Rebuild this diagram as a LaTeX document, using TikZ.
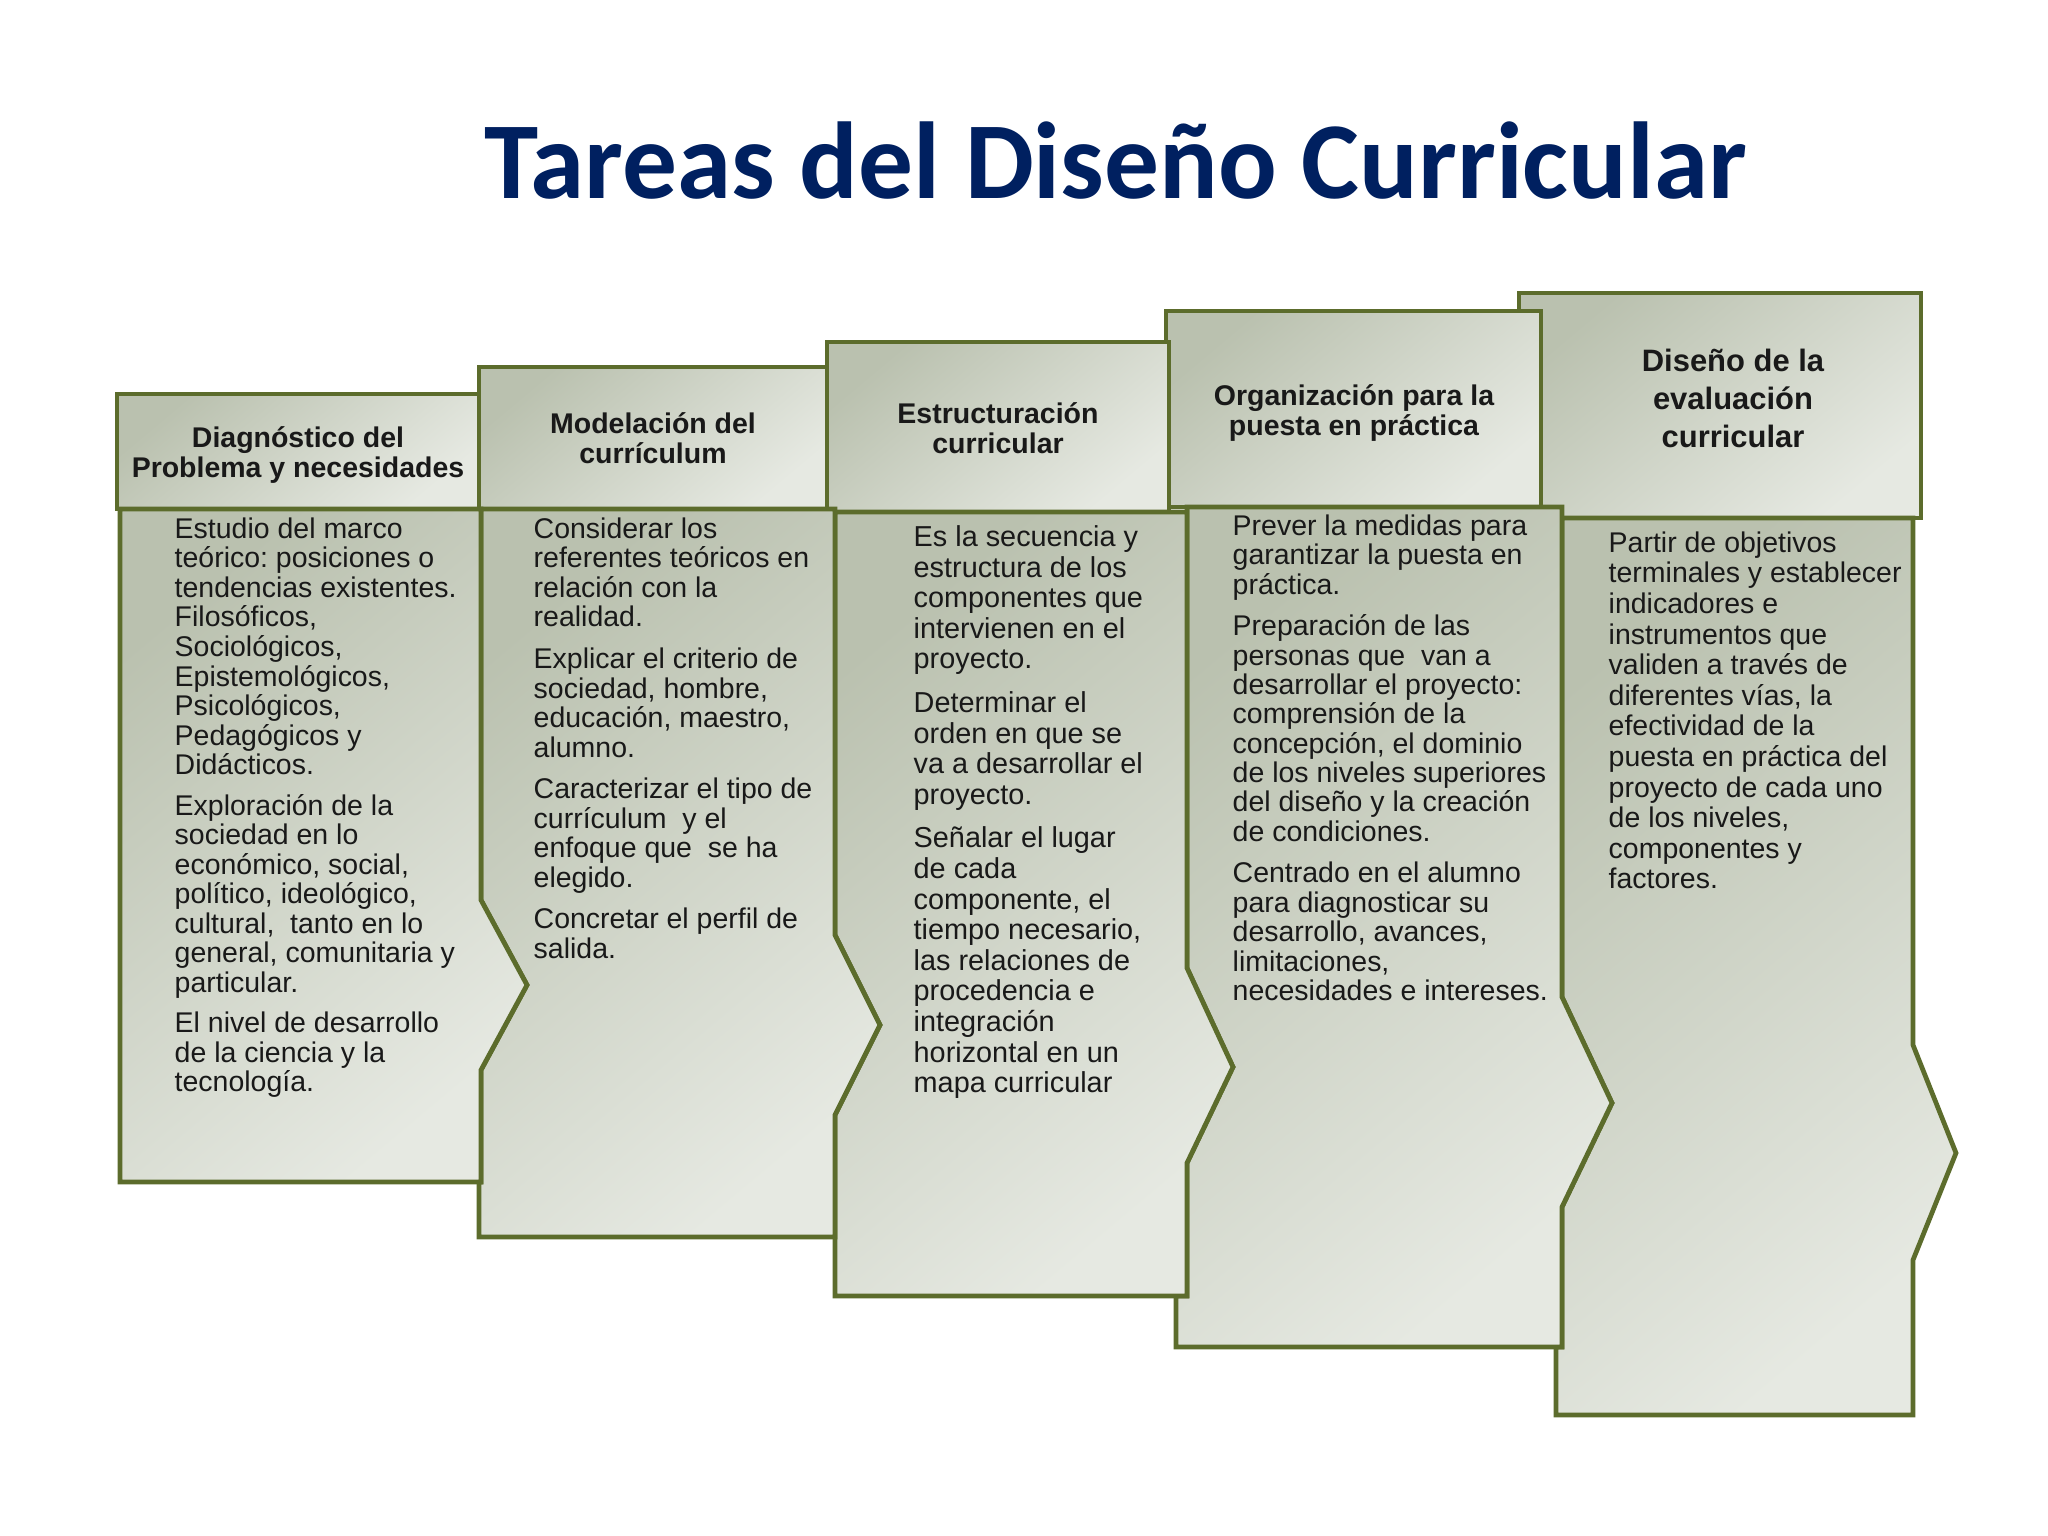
\documentclass[tikz,border=0pt]{standalone}
\usepackage{fontspec}
\setmainfont{Liberation Sans}
\newfontfamily\titlefont{Carlito}
\definecolor{olivebd}{RGB}{92,108,44}
\definecolor{shadeA}{RGB}{186,193,175}
\definecolor{shadeB}{RGB}{230,233,226}
\definecolor{navytitle}{RGB}{0,32,96}
\frenchspacing
\tikzset{
  panel/.style={draw=olivebd, line width=1.35pt, line join=miter, top color=shadeA, bottom color=shadeB, shading angle=40},
  hdr/.style={font=\bfseries\fontsize{8.1}{8.6}\selectfont, align=center, inner sep=0pt, text=black!90},
  bodytext/.style={align=left, anchor=north west, inner sep=0pt, text=black!90},
}
\begin{document}
\begin{tikzpicture}[x=0.01cm,y=-0.01cm]
\useasboundingbox[fill=white] (0,0) rectangle (2048,1536);

\node[font=\titlefont\bfseries\fontsize{31.1}{34}\selectfont, text=navytitle, anchor=base, inner sep=0pt] (title) at (1116,198) {Tareas del Diseño Curricular};

% column 5
\path[panel] (1519,293) rectangle (1921,518);
\path[panel] (1562,518) -- (1913,518) -- (1913,1045) -- (1956,1153) -- (1913,1260) -- (1913,1415) -- (1556,1415) -- (1556,1347) -- (1562,1347) -- (1562,1207) -- (1612,1103) -- (1562,997) -- cycle;
% column 4
\path[panel] (1166,311) rectangle (1541,507);
\path[panel] (1187,507) -- (1562,507) -- (1562,997) -- (1612,1103) -- (1562,1207) -- (1562,1347) -- (1176,1347) -- (1176,1296) -- (1187,1296) -- (1187,1163) -- (1233,1067) -- (1187,968) -- cycle;
% column 3
\path[panel] (827,342) rectangle (1169,512);
\path[panel] (835,512) -- (1187,512) -- (1187,968) -- (1233,1067) -- (1187,1163) -- (1187,1296) -- (835,1296) -- (835,1115) -- (880,1025) -- (835,935) -- cycle;
% column 2
\path[panel] (479,367) rectangle (827,509);
\path[panel] (481,509) -- (835,509) -- (835,935) -- (880,1025) -- (835,1115) -- (835,1237) -- (479,1237) -- (479,1182) -- (481,1182) -- (481,1070) -- (527,985) -- (481,900) -- cycle;
% column 1
\path[panel] (117,394) rectangle (479,509);
\path[panel] (120,509) -- (481,509) -- (481,900) -- (527,985) -- (481,1070) -- (481,1182) -- (120,1182) -- cycle;

% headers
\node[hdr] (h1) at (298,455) {Diagnóstico del\\Problema y necesidades};
\node[hdr] (h2) at (653,438) {Modelación del\\currículum};
\node[hdr] (h3) at (998,428) {Estructuración\\curricular};
\node[hdr] (h4) at (1354,413) {Organización para la\\puesta en práctica};
\node[hdr, font=\bfseries\fontsize{8.8}{10.8}\selectfont] (h5) at (1733,398) {Diseño de la\\evaluación\\curricular};

% bodies
\node[bodytext, font=\fontsize{8.1}{8.4}\selectfont] (t1) at (174,517) {Estudio del marco\\teórico: posiciones o\\tendencias existentes.\\Filosóficos,\\Sociológicos,\\Epistemológicos,\\Psicológicos,\\Pedagógicos y\\Didácticos.\\[3.1pt]Exploración de la\\sociedad en lo\\económico, social,\\político, ideológico,\\cultural,\ \ tanto en lo\\general, comunitaria y\\particular.\\[3.1pt]El nivel de desarrollo\\de la ciencia y la\\tecnología.};

\node[bodytext, font=\fontsize{8.1}{8.4}\selectfont] (t2) at (533,517) {Considerar los\\referentes teóricos en\\relación con la\\realidad.\\[3.4pt]Explicar el criterio de\\sociedad, hombre,\\educación, maestro,\\alumno.\\[3.4pt]Caracterizar el tipo de\\currículum\ \ y el\\enfoque que\ \ se ha\\elegido.\\[3.4pt]Concretar el perfil de\\salida.};

\node[bodytext, font=\fontsize{8.2}{8.7}\selectfont] (t3) at (913,525) {Es la secuencia y\\estructura de los\\componentes que\\intervienen en el\\proyecto.\\[3.7pt]Determinar el\\orden en que se\\va a desarrollar el\\proyecto.\\[3.7pt]Señalar el lugar\\de cada\\componente, el\\tiempo necesario,\\las relaciones de\\procedencia e\\integración\\horizontal en un\\mapa curricular};

\node[bodytext, font=\fontsize{8.1}{8.35}\selectfont] (t4) at (1232,514) {Prever la medidas para\\garantizar la puesta en\\práctica.\\[3.5pt]Preparación de las\\personas que\ \ van a\\desarrollar el proyecto:\\comprensión de la\\concepción, el dominio\\de los niveles superiores\\del diseño y la creación\\de condiciones.\\[3.5pt]Centrado en el alumno\\para diagnosticar su\\desarrollo, avances,\\limitaciones,\\necesidades e intereses.};

\node[bodytext, font=\fontsize{8.1}{8.7}\selectfont] (t5) at (1608,531) {Partir de objetivos\\terminales y establecer\\indicadores e\\instrumentos que\\validen a través de\\diferentes vías, la\\efectividad de la\\puesta en práctica del\\proyecto de cada uno\\de los niveles,\\componentes y\\factores.};
\end{tikzpicture}
\end{document}
